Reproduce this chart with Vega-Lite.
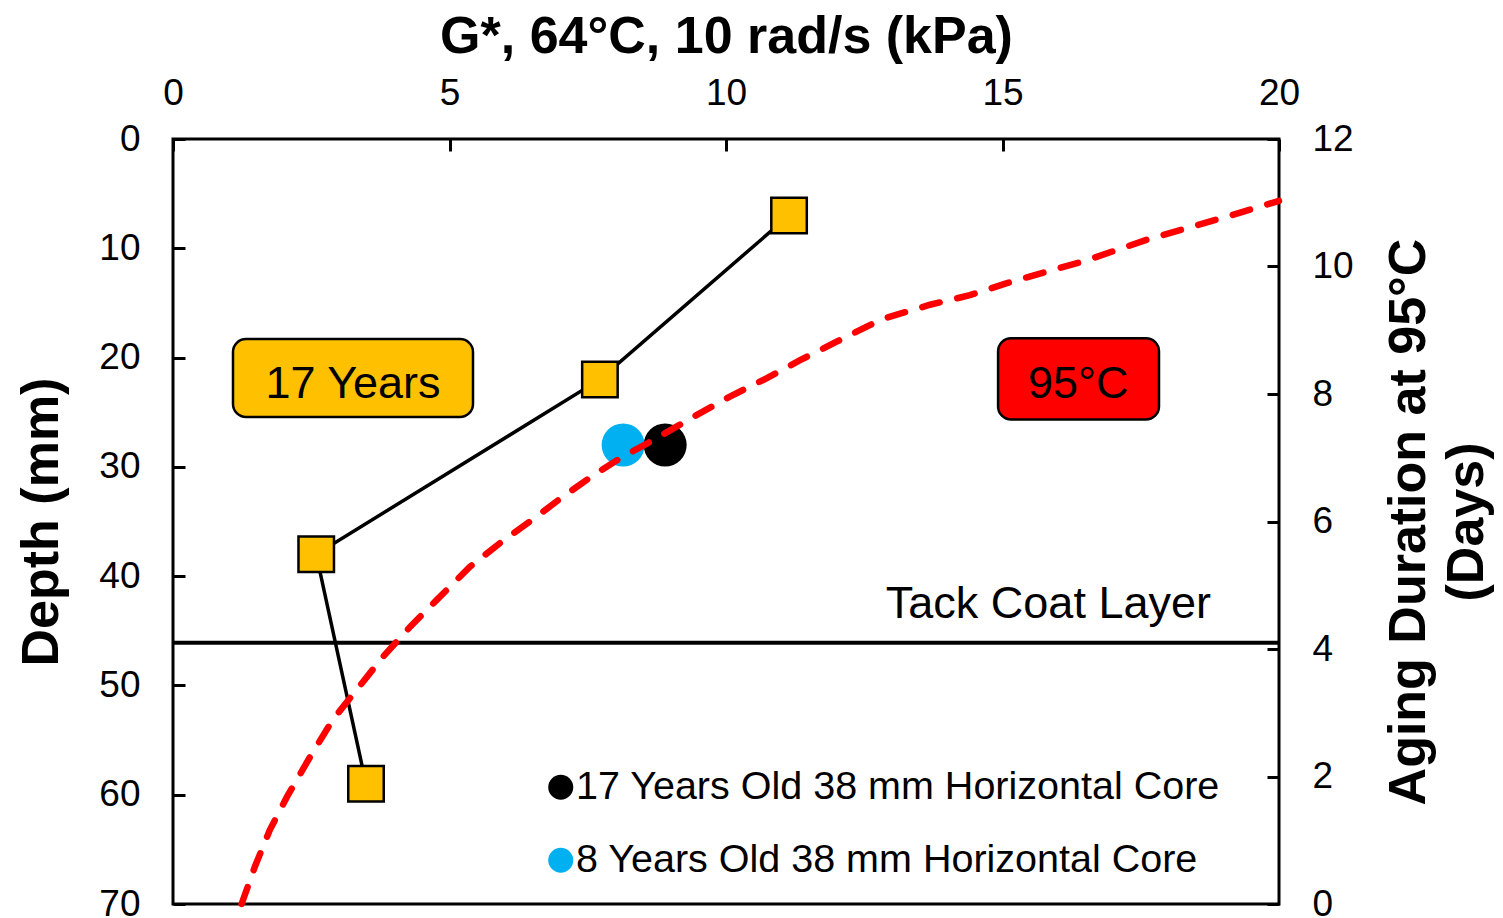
{
  "$schema": "https://vega.github.io/schema/vega-lite/v6.json",
  "width": 1106,
  "height": 765,
  "autosize": "none",
  "padding": {"left": 173, "top": 139, "right": 224, "bottom": 14},
  "background": "white",
  "config": {
    "font": "Liberation Sans",
    "view": {"stroke": "black", "strokeWidth": 3},
    "axis": {
      "labelFont": "Liberation Sans",
      "labelFontSize": 37,
      "labelColor": "black",
      "titleFont": "Liberation Sans",
      "titleFontSize": 52,
      "titleFontWeight": "bold",
      "titleColor": "black",
      "tickSize": -12,
      "tickWidth": 3,
      "tickColor": "black",
      "domain": false,
      "grid": false,
      "labelFlush": false,
      "labelOverlap": false
    }
  },
  "datasets": {
    "squares": [
      {"g": 11.14, "depth": 7},
      {"g": 7.72, "depth": 22},
      {"g": 2.59, "depth": 38},
      {"g": 3.49, "depth": 59}
    ],
    "cores": [
      {"g": 8.9, "depth": 28, "series": "17 Years Old 38 mm Horizontal Core"},
      {"g": 8.14, "depth": 28, "series": "8 Years Old 38 mm Horizontal Core"}
    ],
    "boxes": [
      {"label": "17 Years", "g1": 1.085, "g2": 5.425, "d1": 18.3, "d2": 25.44, "gc": 3.255, "dt": 23.73},
      {"label": "95°C", "g1": 14.92, "g2": 17.83, "d1": 18.24, "d2": 25.66, "gc": 16.37, "dt": 23.73}
    ],
    "tack": [{"depth": 46.1, "gt": 15.83, "dt": 43.86, "label": "Tack Coat Layer"}],
    "curve": [
      {"g": 1.24, "days": 0},
      {"g": 1.48, "days": 0.585},
      {"g": 1.75, "days": 1.16},
      {"g": 2.06, "days": 1.68},
      {"g": 2.48, "days": 2.31},
      {"g": 2.89, "days": 2.89},
      {"g": 3.32, "days": 3.36},
      {"g": 3.8, "days": 3.88},
      {"g": 4.29, "days": 4.35},
      {"g": 4.77, "days": 4.77},
      {"g": 5.37, "days": 5.29},
      {"g": 5.91, "days": 5.66},
      {"g": 6.58, "days": 6.08},
      {"g": 7.05, "days": 6.39},
      {"g": 7.66, "days": 6.76},
      {"g": 8.14, "days": 7.02},
      {"g": 8.69, "days": 7.28},
      {"g": 9.41, "days": 7.64},
      {"g": 10.07, "days": 7.96},
      {"g": 10.74, "days": 8.25},
      {"g": 11.34, "days": 8.53},
      {"g": 12.0, "days": 8.82},
      {"g": 12.6, "days": 9.08},
      {"g": 12.88, "days": 9.19},
      {"g": 13.69, "days": 9.4},
      {"g": 14.41, "days": 9.55},
      {"g": 15.08, "days": 9.74},
      {"g": 15.8, "days": 9.92},
      {"g": 16.46, "days": 10.08},
      {"g": 17.61, "days": 10.42},
      {"g": 18.33, "days": 10.6},
      {"g": 19.05, "days": 10.78},
      {"g": 20.0, "days": 11.03}
    ]
  },
  "layer": [
    {
      "layer": [
        {
          "data": {"name": "tack"},
          "mark": {"type": "rule", "color": "black", "strokeWidth": 4},
          "encoding": {
            "y": {"field": "depth", "type": "quantitative", "scale": {"domain": [0, 70], "reverse": true, "nice": false},
              "axis": {"orient": "left", "values": [0, 10, 20, 30, 40, 50, 60, 70], "title": "Depth (mm)", "titleAngle": 270, "titleX": -116, "titleBaseline": "alphabetic", "titleAlign": "center", "labelPadding": 45}}
          }
        },
        {
          "data": {"name": "tack"},
          "mark": {"type": "text", "fontSize": 45, "color": "black", "align": "center", "baseline": "alphabetic"},
          "encoding": {
            "x": {"field": "gt", "type": "quantitative"},
            "y": {"field": "dt", "type": "quantitative"},
            "text": {"field": "label"}
          }
        },
        {
          "data": {"name": "boxes"},
          "mark": {"type": "rect", "stroke": "black", "strokeWidth": 2.5, "cornerRadius": 13},
          "encoding": {
            "x": {"field": "g1", "type": "quantitative",
              "scale": {"domain": [0, 20], "nice": false},
              "axis": {"orient": "top", "values": [0, 5, 10, 15, 20], "title": "G*, 64°C, 10 rad/s (kPa)", "titleY": -87, "titleBaseline": "alphabetic", "labelBaseline": "alphabetic", "labelPadding": 47}},
            "x2": {"field": "g2"},
            "y": {"field": "d1", "type": "quantitative"},
            "y2": {"field": "d2"},
            "fill": {"field": "label", "type": "nominal", "scale": {"domain": ["17 Years", "95°C"], "range": ["#FFC000", "#FF0000"]}, "legend": null}
          }
        },
        {
          "data": {"name": "boxes"},
          "mark": {"type": "text", "fontSize": 45, "color": "black", "align": "center", "baseline": "alphabetic"},
          "encoding": {
            "x": {"field": "gc", "type": "quantitative"},
            "y": {"field": "dt", "type": "quantitative"},
            "text": {"field": "label"}
          }
        },
        {
          "data": {"name": "squares"},
          "mark": {"type": "line", "color": "black", "strokeWidth": 3.5},
          "encoding": {
            "x": {"field": "g", "type": "quantitative"},
            "y": {"field": "depth", "type": "quantitative"},
            "order": {"field": "depth", "type": "quantitative"}
          }
        },
        {
          "data": {"name": "squares"},
          "mark": {"type": "point", "shape": "square", "filled": true, "fill": "#FFC000", "stroke": "black", "strokeWidth": 2.5, "size": 1260, "opacity": 1},
          "encoding": {
            "x": {"field": "g", "type": "quantitative"},
            "y": {"field": "depth", "type": "quantitative"}
          }
        },
        {
          "data": {"name": "cores"},
          "mark": {"type": "circle", "size": 1850, "opacity": 1},
          "encoding": {
            "x": {"field": "g", "type": "quantitative"},
            "y": {"field": "depth", "type": "quantitative"},
            "color": {"field": "series", "type": "nominal",
              "scale": {"domain": ["17 Years Old 38 mm Horizontal Core", "8 Years Old 38 mm Horizontal Core"], "range": ["#000000", "#00B0F0"]},
              "legend": {"orient": "none", "legendX": 368, "legendY": 628.5, "title": null, "padding": 0,
                "labelFont": "Liberation Sans", "labelFontSize": 39.5, "labelColor": "black", "labelLimit": 0, "labelOffset": -4.5,
                "symbolType": "circle", "symbolSize": 625, "symbolStrokeWidth": 0, "symbolOpacity": 1, "rowPadding": 32}}
          }
        }
      ]
    },
    {
      "data": {"name": "curve"},
      "mark": {"type": "line", "color": "#FF0000", "strokeWidth": 6.5, "strokeDash": [18, 18], "strokeCap": "round"},
      "encoding": {
        "x": {"field": "g", "type": "quantitative"},
        "y": {"field": "days", "type": "quantitative", "scale": {"domain": [0, 12], "nice": false},
          "axis": {"orient": "right", "values": [0, 2, 4, 6, 8, 10, 12], "title": ["Aging Duration at 95°C", "(Days)"], "titleAngle": 270, "titleX": 145, "titleBaseline": "alphabetic", "titleAlign": "center", "titleLineHeight": 58, "labelPadding": 45}}
      }
    }
  ],
  "resolve": {"scale": {"y": "independent"}}
}
